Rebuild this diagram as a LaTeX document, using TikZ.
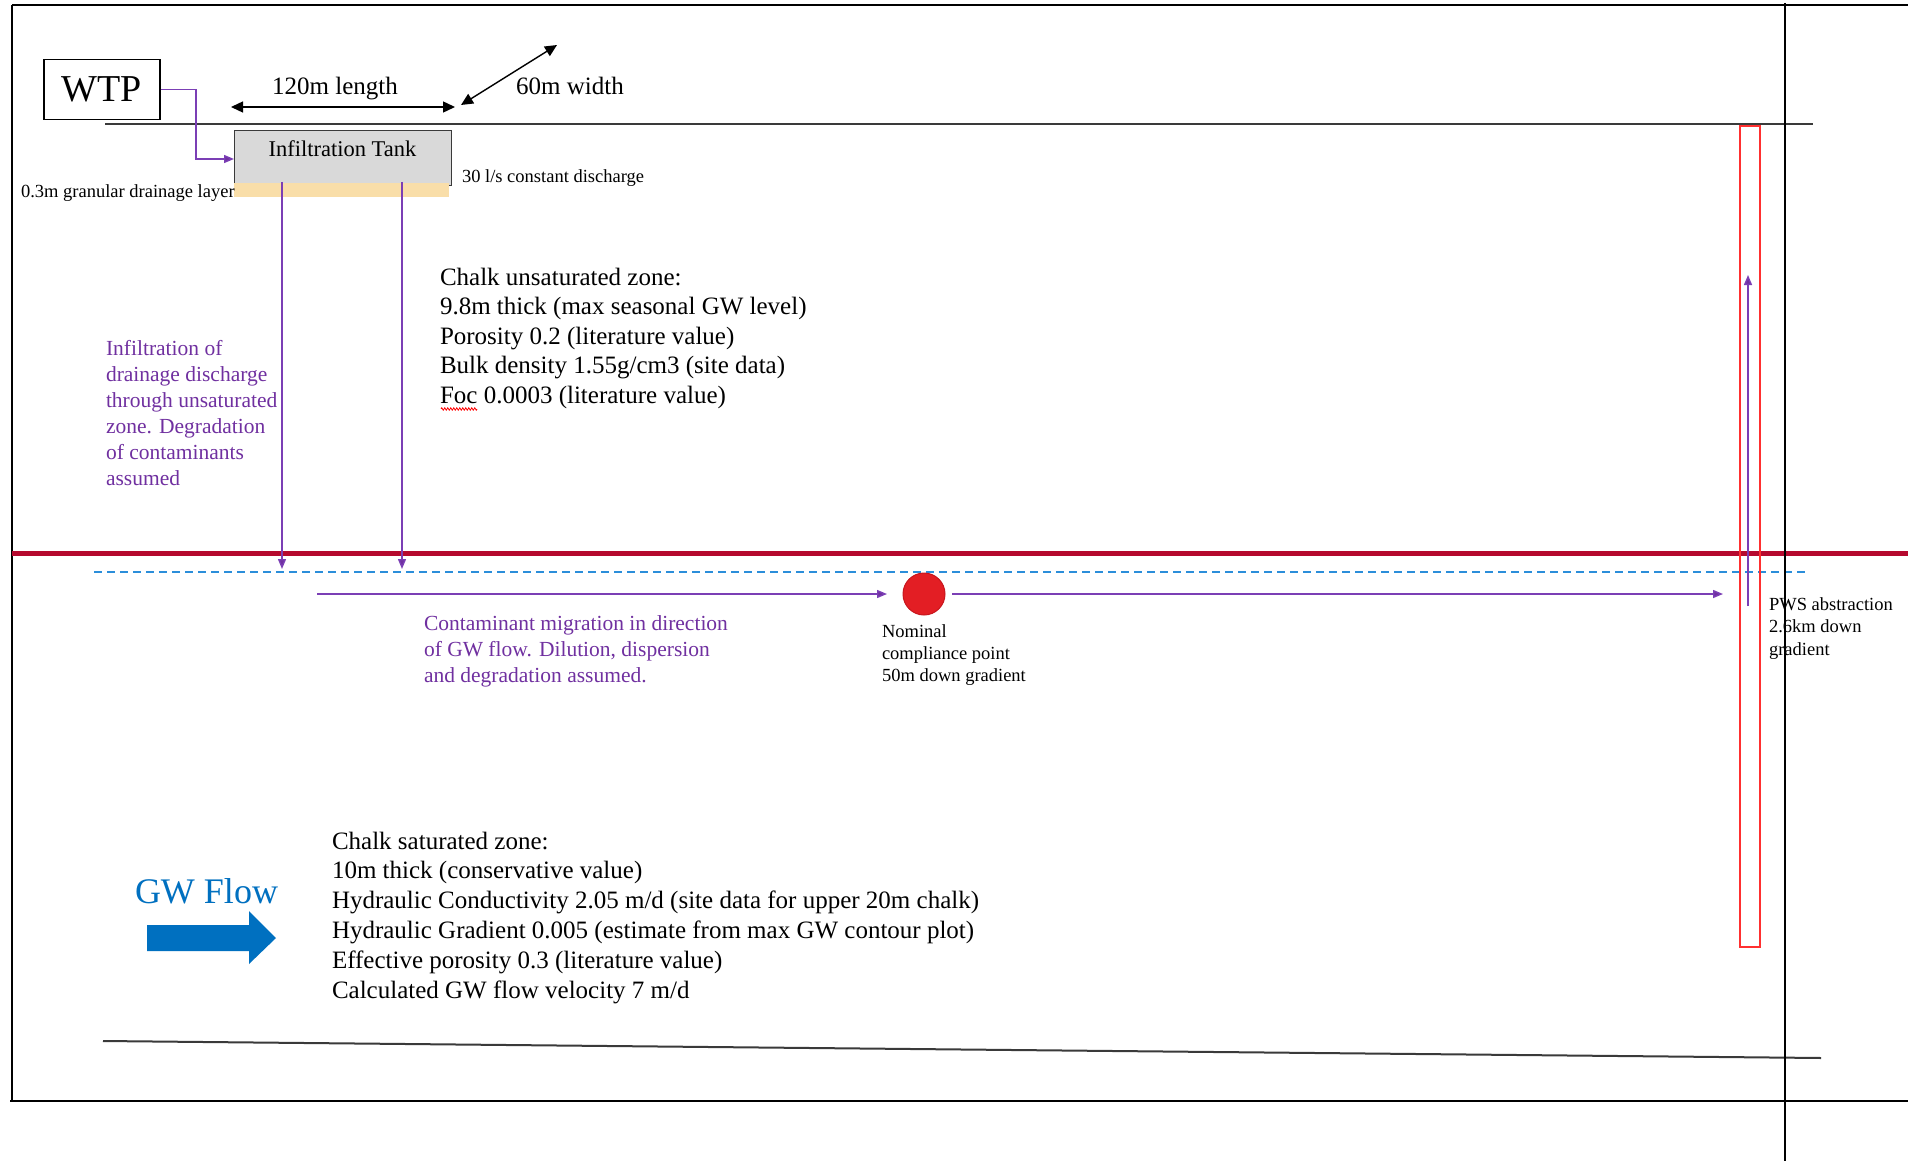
\documentclass[tikz,border=0pt]{standalone}
\usepackage{fontspec}
\setmainfont{Liberation Serif}
\usetikzlibrary{arrows.meta,decorations.pathmorphing}
\definecolor{ppl}{HTML}{7030A0}
\definecolor{pline}{HTML}{7B3FB5}
\definecolor{tankgray}{HTML}{D9D9D9}
\definecolor{draintan}{HTML}{F9DEA9}
\definecolor{wtred}{HTML}{B5092E}
\definecolor{gwblue}{HTML}{2B8EDA}
\definecolor{flowblue}{HTML}{0070C0}
\definecolor{dotred}{HTML}{E31E24}
\definecolor{dotedge}{HTML}{C8161D}
\definecolor{pwsred}{HTML}{FF3030}
\definecolor{linegray}{HTML}{3A3A3A}
\newcommand\myfs[2]{\fontsize{#1}{#2}\selectfont}
\tikzset{
  lbl/.style={inner sep=0pt, outer sep=0pt, anchor=base west, align=left},
  purp/.style={draw=pline, line width=1.4pt},
  parrow/.style={purp, -{Triangle[length=10pt,width=8pt,fill=ppl]}},
  darrow/.style={black, line width=1.4pt, {Triangle[length=12pt,width=11pt]}-{Triangle[length=12pt,width=11pt]}},
  framel/.style={black, line width=2pt},
  grayl/.style={linegray, line width=2pt},
}
\begin{document}
\begin{tikzpicture}[x=1pt,y=-1pt]
\useasboundingbox (0,0) rectangle (1908,1161);
\fill[white] (0,0) rectangle (1908,1161);

% frame
\draw[framel] (12,5) -- (1908,5);
\draw[framel] (12,5) -- (12,1101);
\draw[framel] (10,1101) -- (1908,1101);
\draw[grayl] (105,124) -- (1813,124);
\draw[grayl] (103,1041) -- (1821,1058);

% water table lines
\draw[wtred, line width=5pt] (12,553) -- (1908,553);
\draw[gwblue, line width=1.6pt, dash pattern=on 8pt off 5pt] (94,572) -- (1808,572);

% WTP and tank
\node[draw=black, line width=1.5pt, minimum width=116pt, minimum height=60pt, inner sep=0pt, anchor=north west, font=\myfs{38}{40}] (wtp) at (43,59) {WTP};
\node[draw=linegray, line width=1.2pt, fill=tankgray, minimum width=217pt, minimum height=55pt, inner sep=0pt, anchor=north west] (tank) at (234,130) {};
\node[fill=draintan, minimum width=215pt, minimum height=14pt, inner sep=0pt, anchor=north west] (drain) at (234,183) {};
\node[inner sep=0pt, anchor=base, font=\myfs{22.5}{26}] (tanklbl) at (342.5,157) {Infiltration Tank};
\node[lbl, font=\myfs{18.5}{22}] (discharge) at (462,183) {30 l/s constant discharge};
\node[lbl, font=\myfs{18.5}{22}] (drainlbl) at (21,198) {0.3m granular drainage layer};

% dimension arrows
\coordinate (lenA) at (231,107);
\coordinate (lenB) at (455,107);
\draw[darrow] (lenA) -- (lenB);
\node[inner sep=0pt, anchor=base, font=\myfs{25}{30}] (lenlbl) at (335,95) {120m length};
\coordinate (widA) at (461,105);
\coordinate (widB) at (557,45);
\draw[darrow] (widA) -- (widB);
\node[inner sep=0pt, anchor=base, font=\myfs{25}{30}] (widlbl) at (570,95) {60m width};

% WTP -> tank
\coordinate (wbend) at (196,159);
\draw[parrow] (wtp.east) -| (wbend) -- (wbend -| tank.west);

% infiltration arrows
\coordinate (iA1) at (282,182);
\coordinate (iB1) at (282,569);
\coordinate (iA2) at (402,182);
\coordinate (iB2) at (402,569);
\draw[parrow] (iA1) -- (iB1);
\draw[parrow] (iA2) -- (iB2);

% text blocks (anchor = baseline of last line)
\node[lbl, font=\myfs{25}{29.5}] (unsat) at (440,403) {Chalk unsaturated zone:\\9.8m thick (max seasonal GW level)\\Porosity 0.2 (literature value)\\Bulk density 1.55g/cm3 (site data)\\Foc 0.0003 (literature value)};
\draw[red, line width=0.8pt, decorate, decoration={zigzag, amplitude=1.2pt, segment length=3pt}] (441,409) -- (477,409);
\node[lbl, font=\myfs{21.5}{26}, text=ppl] (infil) at (106,485) {Infiltration of\\drainage discharge\\through unsaturated\\zone. Degradation\\of contaminants\\assumed};
\node[lbl, font=\myfs{21.5}{26}, text=ppl] (migr) at (424,682) {Contaminant migration in direction\\of GW flow. Dilution, dispersion\\and degradation assumed.};
\node[lbl, font=\myfs{18.5}{22}] (nominal) at (882,681) {Nominal\\compliance point\\50m down gradient};
\node[lbl, font=\myfs{25}{29.8}] (sat) at (332,998) {Chalk saturated zone:\\10m thick (conservative value)\\Hydraulic Conductivity 2.05 m/d (site data for upper 20m chalk)\\Hydraulic Gradient 0.005 (estimate from max GW contour plot)\\Effective porosity 0.3 (literature value)\\Calculated GW flow velocity 7 m/d};

% compliance point and migration arrows
\node[circle, fill=dotred, draw=dotedge, line width=1pt, minimum size=42pt, inner sep=0pt] (dot) at (924,594) {};
\coordinate (mA) at (317,594);
\coordinate (mB) at (887,594);
\coordinate (mC) at (952,594);
\coordinate (mD) at (1723,594);
\draw[parrow] (mA) -- (mB);
\draw[parrow] (mC) -- (mD);

% PWS abstraction
\node[draw=pwsred, line width=1.8pt, minimum width=20pt, minimum height=821pt, inner sep=0pt, anchor=north west] (pws) at (1739,125) {};
\coordinate (upA) at (1748,606);
\coordinate (upB) at (1748,275);
\draw[parrow] (upA) -- (upB);
\node[lbl, font=\myfs{18.5}{22.5}] (pwslbl) at (1769,655) {PWS abstraction\\2.6km down\\gradient};
\draw[framel] (1785,3) -- (1785,1161);

% GW flow
\node[inner sep=0pt, anchor=base, font=\myfs{36}{40}, text=flowblue] (gwflow) at (206.5,903) {GW Flow};
\fill[flowblue] (147,925) -- (249,925) -- (249,911) -- (276,938) -- (249,964) -- (249,951) -- (147,951) -- cycle;
\end{tikzpicture}
\end{document}
